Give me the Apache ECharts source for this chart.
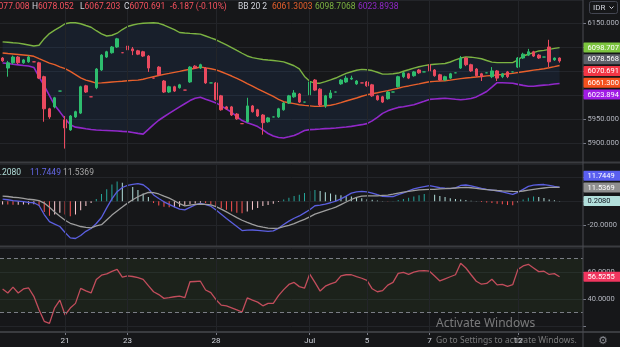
<!DOCTYPE html>
<html>
<head>
<meta charset="utf-8">
<script src="https://cdn.jsdelivr.net/npm/echarts@6/dist/echarts.min.js"></script>
<style>
  html, body { margin: 0; padding: 0; background: #161719; }
  #chart { width: 620px; height: 347px; }
</style>
</head>
<body>
<div id="chart"></div>
<script>
// ---- price candles: [open, close, low, high] ----
const candles = [
  [6077,6071,6069,6079],[6056,6067,6038,6071],[6067,6079,6064,6082],[6079,6067,6064,6081],
  [6067,6073,6065,6075],[6069,6079,6067,6082],[6069,6069,6069,6069],[6067,6035,6033,6069],
  [6038,5971,5944,6040],[5971,5954,5950,5973],[5975,5994,5972,5996],[6008,6008,6008,6008],
  [5948,5931,5888,5956],[5927,5956,5925,5958],[5954,5965,5952,5967],[5962,6017,5960,6019],
  [6019,6006,6004,6021],[5996,5996,5996,5996],[6015,6054,6012,6056],[6052,6083,6050,6085],
  [6079,6090,6077,6092],[6088,6100,6086,6102],[6100,6117,6098,6119],[6088,6088,6088,6088],
  [6102,6094,6073,6129],[6096,6092,6083,6100],[6092,6085,6083,6094],[6090,6081,6079,6092],
  [6081,6056,6048,6083],[6035,6035,6035,6035],[6058,6042,6040,6060],[6029,6006,6004,6031],
  [6006,6017,6004,6019],[6017,6008,6006,6019],[6015,6021,6013,6023],[6010,6010,6010,6010],
  [6027,6058,6025,6060],[6060,6056,6054,6062],[6056,6063,6054,6065],[6056,6025,6023,6058],
  [6025,6025,6025,6025],[6025,5990,5988,6027],[5998,5969,5967,6000],[5975,5971,5969,5977],
  [5975,5958,5956,5977],[5960,5950,5948,5962],[5940,5940,5940,5940],[5944,5977,5942,5994],
  [5977,5965,5963,5979],[5969,5956,5954,5971],[5958,5942,5917,5960],[5944,5952,5942,5954],
  [5954,5954,5954,5954],[5954,5971,5952,5973],[5969,5983,5967,5985],[5983,5998,5981,6000],
  [5996,6004,5994,6010],[6002,5985,5983,6004],[5985,5985,5985,5985],[6000,6027,5998,6038],
  [6031,6010,6008,6033],[6012,5979,5975,6014],[5977,5998,5973,6000],[5994,6004,5992,6010],
  [6006,6006,6006,6006],[6023,6031,6021,6033],[6027,6035,6025,6040],[6033,6035,6031,6040],
  [6023,6029,6021,6031],[6025,6025,6025,6025],[6027,6019,6017,6029],[6021,5998,5996,6023],
  [5998,5990,5988,6000],[5996,5985,5983,5998],[5992,6006,5990,6008],[6006,6006,6006,6006],
  [6017,6038,6015,6040],[6038,6046,6035,6048],[6044,6035,6033,6046],[6040,6048,6038,6050],
  [6052,6046,6044,6054],[6048,6048,6048,6048],[6063,6050,6048,6069],[6052,6040,6038,6054],
  [6042,6031,6029,6044],[6031,6038,6029,6040],[6035,6044,6033,6046],[6046,6046,6046,6046],
  [6056,6077,6054,6081],[6077,6063,6060,6079],[6063,6050,6048,6065],[6054,6040,6038,6056],
  [6044,6038,6029,6046],[6046,6046,6046,6046],[6038,6050,6035,6058],[6050,6035,6029,6052],
  [6038,6044,6035,6046],[6048,6038,6035,6050],[6048,6048,6048,6048],[6058,6077,6056,6079],
  [6077,6085,6075,6088],[6083,6090,6081,6096],[6090,6081,6079,6092],[6083,6077,6075,6085],
  [6079,6079,6079,6079],[6100,6069,6058,6115],[6073,6076.878,6071,6078],[6077.008,6070.691,6067.203,6078.052]
];

// ---- Bollinger bands (20, 2) ----
const bbUpper = [
  6110.6,6109.8,6108.9,6108.1,6106.2,6104.2,6102.1,6103.5,6117.3,6127.9,6135,6141.4,6148.5,6150.6,6150.6,6148.5,
  6144.8,6141.2,6133.9,6127.3,6122.9,6124.4,6128.7,6136.4,6142.7,6145.8,6148.3,6149.6,6150,6150.4,6149.4,6145.8,
  6141,6136,6130.2,6129.2,6128.3,6127.7,6126.9,6122.9,6118.9,6115,6109.4,6104.2,6098.7,6092.7,6086.9,6081.2,
  6077.7,6075.8,6073.9,6072.7,6071.7,6070.4,6068.9,6065,6060.8,6054.2,6038.5,6028.3,6024.4,6024.4,6027.7,6031.2,
  6035.2,6040,6045,6048.3,6051.4,6053.3,6052.5,6050.8,6047.3,6043.3,6043.3,6044.2,6045.6,6049.4,6052.5,6056,
  6058.7,6061.2,6062.9,6063.9,6064.8,6065.6,6068.7,6072.9,6076.9,6079.4,6078.7,6077.3,6075.4,6071.7,6068.3,6067.3,
  6067.3,6067.3,6067.3,6072.9,6081.2,6084.8,6088.1,6091.7,6092.9,6095,6097.1,6098.7068
];
const bbMiddle = [
  6087.5,6086.4,6085.4,6084.4,6083.3,6082.1,6080.6,6075.8,6071.2,6066.4,6063.1,6058.5,6054.8,6048.9,6042.3,6035.6,
  6030.8,6027.9,6024.6,6025,6026,6026.9,6027.7,6028.5,6029.4,6030.2,6030.8,6032.7,6035.4,6037.9,6040.4,6042.7,
  6044.8,6047.1,6049.2,6051.4,6053.5,6055.6,6058.3,6056.4,6054.6,6052.3,6048.3,6043.9,6039.4,6034.4,6029.2,6023.7,
  6018.3,6012.7,6007.5,6002.1,5996.7,5990.8,5985.8,5983.7,5981.7,5979.4,5978.1,5977.1,5976,5976.2,5977.5,5978.5,
  5980.8,5983.9,5987.3,5990.4,5993.5,5997.1,6000.2,6002.5,6004.4,6006.7,6008.9,6011.4,6013.9,6016.7,6018.7,6021,
  6023.1,6025.4,6027.5,6028.3,6028.9,6029.6,6030.8,6032.5,6034,6035.2,6036.2,6037.3,6038.3,6039.6,6040.6,6041.7,
  6042.7,6044,6045,6046.6,6048.3,6050,6051.7,6053.1,6054.6,6056.7,6058.9,6061.3003
];
const bbLower = [
  6066.6,6065.4,6063.9,6062.7,6061.4,6060.2,6057.3,6037.5,6018.7,5998.5,5978.5,5964.6,5950.4,5937.9,5932.7,5931.2,
  5929.4,5927.7,5926.9,5926.2,5925.8,5925.2,5924.6,5923.9,5923.3,5921.6,5919.8,5918.1,5927.9,5938.1,5947.1,5954.4,
  5961.4,5968.3,5975,5981.6,5988.1,5992.9,5995,5991,5987.1,5983.3,5977.1,5970.2,5963.8,5954.8,5946.5,5941.9,
  5938.3,5933.9,5926.9,5919.4,5914.2,5911.1,5910,5912.5,5915.4,5920.2,5925.6,5927.5,5928.1,5928.8,5929.6,5930.2,
  5931.1,5932.1,5933.1,5934.4,5936.2,5937.9,5940,5945.8,5953.1,5961.4,5966.7,5970.8,5973.9,5975.4,5977.5,5979.6,
  5983.3,5986.9,5990.6,5991.6,5992.3,5992.9,5992.1,5990.8,5989.8,5991,5992.5,5995.8,6001.4,6007.1,6016.2,6025.4,
  6025.2,6024.8,6024.4,6021.9,6019.8,6018.1,6018.1,6019.4,6020.4,6021.2,6022.7,6023.8938
];

// ---- MACD (12, 26, 9) ----
const macdLine = [
  1.8,1.3,0.6,0.2,-0.3,-0.9,-1.2,-3.5,-11,-17,-19,-21,-26,-30.5,-31,-28.5,
  -25,-22.7,-18.5,-13.5,-5.5,2,8,11.5,13.3,14.2,14.8,13.8,10.5,5.3,2.3,-0.4,
  -2.5,-4.6,-6.5,-7.2,-5,-3,-1.8,-2.8,-4.1,-7.3,-10.7,-14.3,-17.7,-21,-24.4,-24,
  -23.9,-24.3,-24.7,-25.1,-24.6,-22.5,-19.3,-16.5,-14.1,-12.2,-9.6,-7,-3.7,-3.1,-2.4,-1.2,
  0.1,2,4.3,6.8,7.9,8.3,7.9,6.9,5.5,4.2,3.9,4,5.5,7.1,8.7,10.3,
  11.5,12.3,13.1,12.3,11.3,10.9,10.6,11.2,13.2,13.6,12.9,11.9,10.7,10,9.4,8.8,
  7.9,6.9,5.7,7.5,10,12.4,13.5,13.8,14,13.2,12.4,11.7449
];
const signalLine = [
  4.4,4.0,3.4,3.0,2.4,1.7,1.3,0.6,-1.5,-5,-8.9,-12.5,-15.8,-18.3,-19.7,-21,
  -21.8,-22.2,-20.5,-19.5,-15.5,-11.5,-8,-4.8,-1.5,1.3,3.8,5.8,7.5,7.3,6.1,4.3,
  2.6,0.5,-2,-3.8,-3.2,-2.6,-2.4,-2.5,-3,-4.5,-6.5,-8.8,-11.2,-13.6,-15.8,-17.6,
  -19.2,-20.6,-21.6,-22.3,-22.5,-22.3,-21.2,-20,-18.6,-16.8,-15,-13,-10.7,-9.2,-7.8,-6.4,
  -4.8,-2.7,-0.6,1.5,3.3,4.4,4.5,4.5,4.6,4.9,5.2,6,6.9,7.7,8.3,8.9,
  9.5,9.7,9.9,10,10.3,10.5,10.8,11.1,11.4,11.7,11.3,10.8,10.2,9.8,9.4,9,
  8.7,8.5,8.2,8.1,8.6,9.3,10,10.6,11.1,11.6,11.6,11.5369
];
const macdHist = [
  -2.6,-2.7,-2.8,-2.8,-2.7,-2.6,-2.5,-4,-9,-12,-11,-9.5,-11,-12.5,-11,-7.5,
  -4,-1.5,2,6,10,14,16.5,15.5,14,12,9.5,6.5,3.5,-1.5,-3.5,-4.5,
  -5,-5,-4.5,-3.5,-2.5,-1.8,-1.2,-1.5,-2.5,-4,-5.5,-7,-8.5,-9.5,-10,-8.5,
  -7,-5.5,-4,-3,-2,-0.5,1.5,3,4.5,5.5,7,8.5,9.5,8.5,7.5,6.5,
  5.5,5,4.5,4,3.5,2.5,1.8,1.2,0.6,0.2,-0.2,0.3,1,2,3,4,
  5,6,6.5,5.5,4.5,3.5,2.5,2,1.5,1,0.5,0.2,-0.5,-1,-1.5,-2,
  -2.5,-3,-3.2,-1,1.5,3,4,3.5,2.8,1.6,0.8,0.208
];

// ---- RSI (14) ----
const rsiLine = [
  47.5,44.5,48.8,44.5,47.5,48.2,42,32,23.5,22,33.5,39.2,28.2,33.3,36.8,47.9,
  46,44.5,54.5,57.7,58.7,60.5,62,56.2,57.2,56.7,55.8,54.6,50,45.4,43.3,40.5,
  41,41.7,42.2,41,52.8,53,53.2,46.7,44.7,39.5,35.5,35,33.5,32,30.4,40.8,
  39.2,37.7,35,36.8,36.8,42.5,47,50.8,52.3,49.2,48,58.5,52.4,45.9,49.5,51.2,
  52.6,57.2,58,58,56.6,55.4,53.8,47.6,45.4,46.2,50.3,52.3,59,59.8,58.3,60,
  60.8,61,60.6,57,53.4,55,56.5,58,66.5,63,58,53.2,51,51.6,54.7,50.5,
  50.9,49.4,50.6,62,64.5,65.7,63,60.3,60.6,58.2,58.8,56.5255
];

// ---- time axis: first bar of each session day ----
const dayTickIndex = [12, 24, 41, 59, 70, 82, 99];
const dayTickLabel = ['21', '23', '28', 'Jul', '5', '7', '12'];
const slotCount = 112;          // bars plus empty space on the right

// other quoted prices shown on the price scale
const refPrice = 6078.568;

// ---------------------------------------------------------------
const FONT = 'Roboto, "Liberation Sans", Arial, sans-serif';
const BG = '#161719';
const GRID = '#232529';
const AXIS_TXT = '#b2b5be';
const UP = '#2ebd6e';
const DOWN = '#ea4a5f';
const C_UPPER = '#7cb342';
const C_MID = '#e8602c';
const C_LOW = '#9128c9';
const C_MACD = '#5b5fe0';
const C_SIGNAL = '#9e9e9e';
const C_RSI = '#c24d5c';

const cats = Array.from({ length: slotCount }, (_, i) => String(i));
const tickSet = new Set(dayTickIndex);

function xAxisFor(gridIndex, withLabels) {
  return {
    type: 'category', gridIndex, data: cats, boundaryGap: true,
    axisLine: { show: false },
    axisTick: { show: withLabels, alignWithLabel: true, interval: (i) => tickSet.has(i), length: 3, lineStyle: { color: '#787b86' } },
    axisLabel: {
      show: withLabels, interval: (i) => tickSet.has(i), margin: 5,
      color: '#d1d4dc', fontSize: 8, fontFamily: FONT,
      formatter: (v, i) => { const k = dayTickIndex.indexOf(Number(v)); return k >= 0 ? dayTickLabel[k] : ''; }
    },
    splitLine: { show: false }
  };
}

function yAxisFor(gridIndex, min, max, step, digits, keep) {
  return {
    type: 'value', gridIndex, position: 'right', min, max, minInterval: step, maxInterval: step,
    axisLine: { show: false },
    axisTick: { show: true, length: 3, lineStyle: { color: '#787b86' } },
    axisLabel: {
      color: AXIS_TXT, fontSize: 7.5, fontFamily: FONT, margin: 4.5, showMinLabel: false, showMaxLabel: false,
      formatter: (v) => (keep && !keep(v)) ? '' : v.toFixed(digits)
    },
    splitLine: { show: true, lineStyle: { color: GRID, width: 1 } }
  };
}

const vGridItems = dayTickIndex.map(i => ({ xAxis: String(i) }));
const vGrid = (extra) => ({
  silent: true, symbol: ['none', 'none'], label: { show: false }, animation: false,
  emphasis: { disabled: true },
  lineStyle: { color: GRID, width: 1, type: 'solid' },
  data: vGridItems.concat(extra || [])
});

function histColor(i) {
  const v = macdHist[i], p = i > 0 ? macdHist[i - 1] : v;
  if (v >= 0) return v >= p ? '#26a69a' : '#b2dfdb';
  return v < p ? '#ff5252' : '#ffcdd2';
}

const bandWidth = bbUpper.map((u, i) => +(u - bbLower[i]).toFixed(4));

const chart = echarts.init(document.getElementById('chart'), null, { renderer: 'canvas' });

const option = {
  backgroundColor: BG,
  animation: false,
  grid: [
    { left: 0, right: 37, top: 0, height: 162, outerBoundsMode: 'none' },
    { left: 0, right: 37, top: 164, height: 82, outerBoundsMode: 'none' },
    { left: 0, right: 37, top: 248, height: 84, outerBoundsMode: 'none' }
  ],
  xAxis: [xAxisFor(0, false), xAxisFor(1, false), xAxisFor(2, true)],
  yAxis: [
    yAxisFor(0, 5860, 6198, 50, 3),
    yAxisFor(1, -37.25, 31.1, 20, 4),
    yAxisFor(2, 15.6, 77.8, 20, 4, v => v === 40 || v === 60)
  ],
  series: [
    { name: 'bbBase', type: 'line', xAxisIndex: 0, yAxisIndex: 0, data: bbLower, stack: 'bb', symbol: 'none',
      lineStyle: { opacity: 0 }, silent: true, z: 1 },
    { name: 'bbFill', type: 'line', xAxisIndex: 0, yAxisIndex: 0, data: bandWidth, stack: 'bb', symbol: 'none',
      lineStyle: { opacity: 0 }, areaStyle: { color: 'rgba(40,120,230,0.09)', opacity: 1 }, silent: true, z: 1 },
    { name: 'upper', type: 'line', xAxisIndex: 0, yAxisIndex: 0, data: bbUpper, symbol: 'none',
      lineStyle: { color: C_UPPER, width: 1.4 }, z: 2 },
    { name: 'basis', type: 'line', xAxisIndex: 0, yAxisIndex: 0, data: bbMiddle, symbol: 'none',
      lineStyle: { color: C_MID, width: 1.4 }, z: 2 },
    { name: 'lower', type: 'line', xAxisIndex: 0, yAxisIndex: 0, data: bbLower, symbol: 'none',
      lineStyle: { color: C_LOW, width: 1.6 }, z: 2 },
    { name: 'price', type: 'candlestick', xAxisIndex: 0, yAxisIndex: 0, data: candles, barWidth: 3,
      itemStyle: { color: UP, color0: DOWN, borderColor: UP, borderColor0: DOWN, borderWidth: 1 },
      z: 3, markLine: vGrid() },

    { name: 'hist', type: 'bar', xAxisIndex: 1, yAxisIndex: 1, barWidth: 1,
      data: macdHist.map((v, i) => ({ value: v, itemStyle: { color: histColor(i) } })),
      z: 2, markLine: vGrid() },
    { name: 'macd', type: 'line', xAxisIndex: 1, yAxisIndex: 1, data: macdLine, symbol: 'none',
      lineStyle: { color: C_MACD, width: 1.3 }, z: 3 },
    { name: 'signal', type: 'line', xAxisIndex: 1, yAxisIndex: 1, data: signalLine, symbol: 'none',
      lineStyle: { color: C_SIGNAL, width: 1.3 }, z: 3 },

    { name: 'rsi', type: 'line', xAxisIndex: 2, yAxisIndex: 2, data: rsiLine, symbol: 'none',
      lineStyle: { color: C_RSI, width: 1.3 }, z: 3,
      markArea: { silent: true, itemStyle: { color: 'rgba(90,160,60,0.09)' }, data: [[{ yAxis: 30 }, { yAxis: 70 }]] },
      markLine: vGrid([
        { yAxis: 70, lineStyle: { color: '#7a7d85', type: [4, 3], width: 1 } },
        { yAxis: 30, lineStyle: { color: '#7a7d85', type: [4, 3], width: 1 } }
      ]) }
  ]
};

chart.setOption(option);

// ---- overlays: pane separators, legends and last-value tags ----
const last = candles.length - 1;
const lastBar = candles[last];
const prevClose = candles[last - 1][1];
const change = lastBar[1] - prevClose;
const changePct = change / prevClose * 100;

function txt(x, y, text, fill, size, align, extra) {
  return Object.assign({
    type: 'text', x, y, z: 50, silent: true,
    style: { text, fill, font: (size || 8.5) + 'px ' + FONT, textAlign: align || 'left', align: align || 'left',
             textVerticalAlign: 'middle', verticalAlign: 'middle' }
  }, extra || {});
}
function pair(x, y, label, value, vColor) {
  return {
    type: 'text', x, y, z: 50, silent: true,
    style: {
      text: '{l|' + label + '}{v|' + value + '}', font: '8.5px ' + FONT,
      textVerticalAlign: 'middle', verticalAlign: 'middle',
      rich: { l: { fill: '#d1d4dc', font: '8.5px ' + FONT }, v: { fill: vColor, font: '8.5px ' + FONT } }
    }
  };
}

function stackTags(list, gap, dir) {
  list.sort((a, b) => a.y - b.y);
  if (dir === 'down') {
    for (let k = 1; k < list.length; k++) if (list[k].y < list[k - 1].y + gap) list[k].y = list[k - 1].y + gap;
  } else {
    for (let k = list.length - 2; k >= 0; k--) if (list[k].y > list[k + 1].y - gap) list[k].y = list[k + 1].y - gap;
  }
  return list;
}
function tagsFor(axis, items, dir) {
  const list = items.map(t => Object.assign({}, t, { y: chart.convertToPixel({ yAxisIndex: axis }, t.value) }));
  return stackTags(list, 11.7, dir);
}

const priceTags = tagsFor(0, [
  { value: bbUpper[last], text: bbUpper[last].toFixed(3), bg: '#7cc53f', fg: '#ffffff' },
  { value: refPrice, text: refPrice.toFixed(3), bg: '#5d6069', fg: '#ffffff' },
  { value: lastBar[1], text: lastBar[1].toFixed(3), bg: '#f23645', fg: '#ffffff' },
  { value: bbMiddle[last], text: bbMiddle[last].toFixed(3), bg: '#f4511e', fg: '#ffffff' },
  { value: bbLower[last], text: bbLower[last].toFixed(3), bg: '#a11ce6', fg: '#ffffff' }
], 'down');
const macdTags = tagsFor(1, [
  { value: macdLine[last], text: macdLine[last].toFixed(4), bg: '#5a5ff0', fg: '#ffffff' },
  { value: signalLine[last], text: signalLine[last].toFixed(4), bg: '#8f8f8f', fg: '#ffffff' },
  { value: macdHist[last], text: macdHist[last].toFixed(4), bg: '#b2dfdb', fg: '#131722' }
], 'up');
const rsiTags = tagsFor(2, [
  { value: rsiLine[last], text: rsiLine[last].toFixed(4), bg: '#f0365f', fg: '#ffffff' }
], 'down');

const tagShapes = [];
priceTags.concat(macdTags, rsiTags).forEach(t => {
  tagShapes.push({ type: 'rect', z: 60, silent: true, shape: { x: 583.5, y: t.y - 5, width: 37, height: 10, r: 1 }, style: { fill: t.bg } });
  tagShapes.push(txt(587.5, t.y + 0.3, t.text, t.fg, 7.5, 'left', { z: 61 }));
});

const sep = (y) => ({ type: 'line', z: 40, silent: true, shape: { x1: 0, y1: y, x2: 620, y2: y }, style: { stroke: '#3a3c40', lineWidth: 2 } });

const graphics = [
  sep(162.5), sep(246.5), sep(332),
  { type: 'line', z: 41, silent: true, shape: { x1: 583, y1: 0, x2: 583, y2: 347 }, style: { stroke: '#4a4c52', lineWidth: 1 } },

  // price legend
  { type: 'text', x: 29.5, y: 7, z: 50, silent: true,
    style: { text: '{l|O}{v|' + lastBar[0].toFixed(3) + '}', textAlign: 'right', align: 'right',
             textVerticalAlign: 'middle', verticalAlign: 'middle', font: '8.5px ' + FONT,
             rich: { l: { fill: '#d1d4dc', font: '8.5px ' + FONT }, v: { fill: '#f7525f', font: '8.5px ' + FONT } } } },
  pair(32, 7, 'H', lastBar[3].toFixed(3), '#f7525f'),
  pair(80, 7, 'L', lastBar[2].toFixed(3), '#f7525f'),
  pair(124, 7, 'C', lastBar[1].toFixed(3), '#f7525f'),
  txt(170, 7, change.toFixed(3) + ' (' + changePct.toFixed(2) + '%)', '#f7525f'),
  txt(238, 7, 'BB 20 2', '#d1d4dc'),
  txt(272, 7, bbMiddle[last].toFixed(4), C_MID),
  txt(315, 7, bbUpper[last].toFixed(4), C_UPPER),
  txt(358, 7, bbLower[last].toFixed(4), C_LOW),

  // MACD legend
  txt(21, 173, macdHist[last].toFixed(4), '#b2dfdb', 8.5, 'right'),
  txt(30, 173, macdLine[last].toFixed(4), '#6468e6'),
  txt(63, 173, signalLine[last].toFixed(4), '#a6a6a6'),

  // currency button
  { type: 'rect', z: 50, silent: true, shape: { x: 589.5, y: 1.5, width: 28, height: 12, r: 2 }, style: { fill: 'none', stroke: '#434651', lineWidth: 1 } },
  txt(593, 8, 'IDR', '#d1d4dc', 8),
  { type: 'polyline', z: 50, silent: true, shape: { points: [[609.5, 6.5], [611.5, 8.5], [613.5, 6.5]] }, style: { stroke: '#d1d4dc', lineWidth: 1, fill: 'none' } },

  // system watermark
  txt(436, 324, 'Activate Windows', 'rgba(200,200,200,0.55)', 12, 'left', { style: { text: 'Activate Windows', fill: 'rgba(200,200,200,0.55)', font: '12px "Noto Sans", "Open Sans", sans-serif', textVerticalAlign: 'middle', verticalAlign: 'middle' } }),
  txt(436, 341, 'Go to Settings to activate Windows.', 'rgba(200,200,200,0.55)', 8.5, 'left', { style: { text: 'Go to Settings to activate Windows.', fill: 'rgba(200,200,200,0.55)', font: '8.5px "Noto Sans", "Open Sans", sans-serif', textVerticalAlign: 'middle', verticalAlign: 'middle' } }),
  txt(603, 341, '\u2699', '#8a8c92', 11, 'center', { style: { text: '\u2699', fill: '#8a8c92', font: '11px "DejaVu Sans", sans-serif', textAlign: 'center', align: 'center', textVerticalAlign: 'middle', verticalAlign: 'middle' } })
].concat(tagShapes);

chart.setOption({ graphic: graphics });
</script>
</body>
</html>
